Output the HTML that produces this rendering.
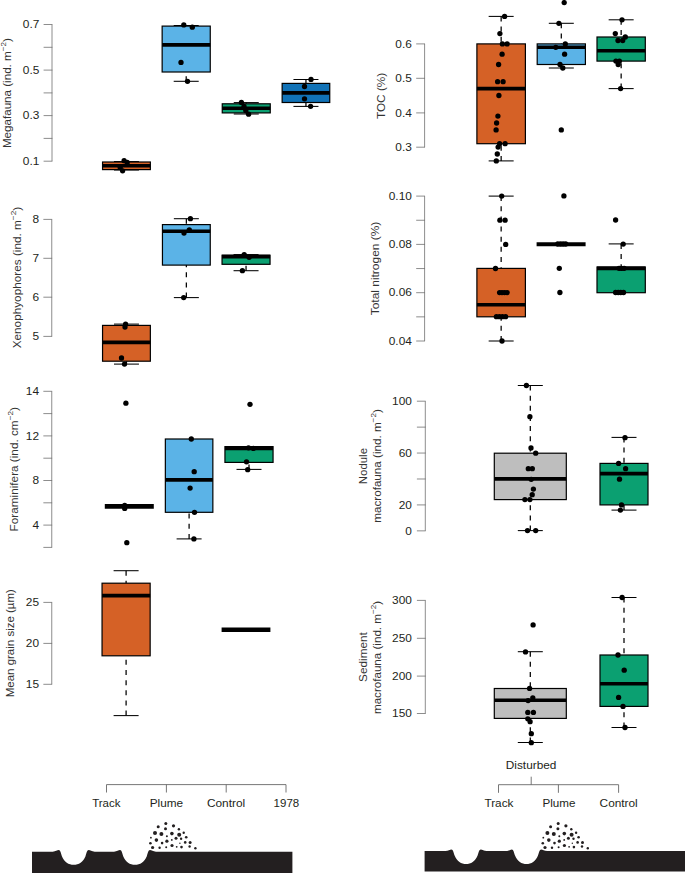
<!DOCTYPE html>
<html><head><meta charset="utf-8"><title>Boxplots</title>
<style>
html,body{margin:0;padding:0;background:#fff;}
svg{display:block;}
text{font-family:"Liberation Sans",sans-serif;font-size:11.4px;}
</style></head><body>
<svg width="685" height="873" viewBox="0 0 685 873">
<rect width="685" height="873" fill="#fff"/>
<path d="M52 24.5V161.2M43.6 24.5H52.4M43.6 47.3H52.4M43.6 70.1H52.4M43.6 92.9H52.4M43.6 115.6H52.4M43.6 138.4H52.4M43.6 161.2H52.4" stroke="#707070" stroke-width="0.8" fill="none"/>
<text transform="translate(39.30 28.2) scale(1.045 1)" text-anchor="end" fill="#231F20">0.7</text>
<text transform="translate(39.30 73.8) scale(1.045 1)" text-anchor="end" fill="#231F20">0.5</text>
<text transform="translate(39.30 119.3) scale(1.045 1)" text-anchor="end" fill="#231F20">0.3</text>
<text transform="translate(39.30 164.9) scale(1.045 1)" text-anchor="end" fill="#231F20">0.1</text>
<text transform="translate(10.7 148.10) rotate(-90) scale(1.0197 1) translate(-0.00 0)" fill="#333"><tspan font-size="11.4">Megafauna (ind. m</tspan><tspan font-size="8" dy="-5">−2</tspan><tspan font-size="11.4" dy="5">)</tspan></text>
<path d="M126.44999999999999 161.6V162" stroke="#000" stroke-width="1.25" stroke-dasharray="5 5.15" fill="none"/>
<path d="M113.94999999999999 161.6H138.95" stroke="#000" stroke-width="1.05" fill="none"/>
<path d="M126.44999999999999 170V169.6" stroke="#000" stroke-width="1.25" stroke-dasharray="5 5.15" fill="none"/>
<path d="M113.94999999999999 170H138.95" stroke="#000" stroke-width="1.05" fill="none"/>
<rect x="102.55" y="162" width="47.8" height="7.6" fill="#D56126" stroke="#000" stroke-width="1.2"/>
<path d="M102.55 165.8H150.35" stroke="#000" stroke-width="3.6" fill="none"/>
<circle cx="124.1" cy="160.7" r="2.65" fill="#000"/>
<circle cx="127.2" cy="162.5" r="2.65" fill="#000"/>
<circle cx="120.2" cy="167.6" r="2.65" fill="#000"/>
<circle cx="122.6" cy="170.8" r="2.65" fill="#000"/>
<path d="M186.2 25.5V26.1" stroke="#000" stroke-width="1.25" stroke-dasharray="5 5.15" fill="none"/>
<path d="M173.7 25.5H198.7" stroke="#000" stroke-width="1.05" fill="none"/>
<path d="M186.2 81.3V72" stroke="#000" stroke-width="1.25" stroke-dasharray="5 5.15" fill="none"/>
<path d="M173.7 81.3H198.7" stroke="#000" stroke-width="1.05" fill="none"/>
<rect x="162.15" y="26.1" width="48.1" height="45.9" fill="#5BB3E7" stroke="#000" stroke-width="1.2"/>
<path d="M162.15 44.9H210.25" stroke="#000" stroke-width="3.6" fill="none"/>
<circle cx="183.8" cy="24.9" r="2.65" fill="#000"/>
<circle cx="192.3" cy="27.2" r="2.65" fill="#000"/>
<circle cx="181" cy="62.4" r="2.65" fill="#000"/>
<circle cx="187.5" cy="81.3" r="2.65" fill="#000"/>
<path d="M246.25 102.6V103.8" stroke="#000" stroke-width="1.25" stroke-dasharray="5 5.15" fill="none"/>
<path d="M233.75 102.6H258.75" stroke="#000" stroke-width="1.05" fill="none"/>
<path d="M246.25 114V112.9" stroke="#000" stroke-width="1.25" stroke-dasharray="5 5.15" fill="none"/>
<path d="M233.75 114H258.75" stroke="#000" stroke-width="1.05" fill="none"/>
<rect x="222.25" y="103.8" width="48.0" height="9.1" fill="#0BA071" stroke="#000" stroke-width="1.2"/>
<path d="M222.25 108.3H270.25" stroke="#000" stroke-width="3.6" fill="none"/>
<circle cx="241.4" cy="102.4" r="2.65" fill="#000"/>
<circle cx="244" cy="106.5" r="2.65" fill="#000"/>
<circle cx="245.8" cy="110.4" r="2.65" fill="#000"/>
<circle cx="248.6" cy="114.2" r="2.65" fill="#000"/>
<path d="M305.95000000000005 79.5V83.4" stroke="#000" stroke-width="1.25" stroke-dasharray="5 5.15" fill="none"/>
<path d="M293.45000000000005 79.5H318.45000000000005" stroke="#000" stroke-width="1.05" fill="none"/>
<path d="M305.95000000000005 106.4V102.5" stroke="#000" stroke-width="1.25" stroke-dasharray="5 5.15" fill="none"/>
<path d="M293.45000000000005 106.4H318.45000000000005" stroke="#000" stroke-width="1.05" fill="none"/>
<rect x="282.15" y="83.4" width="47.6" height="19.1" fill="#1172B6" stroke="#000" stroke-width="1.2"/>
<path d="M282.15 92.9H329.75" stroke="#000" stroke-width="3.6" fill="none"/>
<circle cx="311" cy="79.4" r="2.65" fill="#000"/>
<circle cx="304.5" cy="86.5" r="2.65" fill="#000"/>
<circle cx="304.5" cy="98.8" r="2.65" fill="#000"/>
<circle cx="310.6" cy="106.3" r="2.65" fill="#000"/>
<path d="M51.75 219.4V336.4M43.35 219.4H52.15M43.35 258.3H52.15M43.35 297.2H52.15M43.35 336.4H52.15" stroke="#707070" stroke-width="0.8" fill="none"/>
<text transform="translate(39.05 223.1) scale(1.045 1)" text-anchor="end" fill="#231F20">8</text>
<text transform="translate(39.05 262.0) scale(1.045 1)" text-anchor="end" fill="#231F20">7</text>
<text transform="translate(39.05 300.9) scale(1.045 1)" text-anchor="end" fill="#231F20">6</text>
<text transform="translate(39.05 340.1) scale(1.045 1)" text-anchor="end" fill="#231F20">5</text>
<text transform="translate(20.9 348.30) rotate(-90) scale(1.0319 1) translate(-0.00 0)" fill="#333"><tspan font-size="11.4">Xenophyophores (ind. m</tspan><tspan font-size="8" dy="-5">−2</tspan><tspan font-size="11.4" dy="5">)</tspan></text>
<path d="M126.44999999999999 324.1V325.4" stroke="#000" stroke-width="1.25" stroke-dasharray="5 5.15" fill="none"/>
<path d="M113.94999999999999 324.1H138.95" stroke="#000" stroke-width="1.05" fill="none"/>
<path d="M126.44999999999999 364.1V361.2" stroke="#000" stroke-width="1.25" stroke-dasharray="5 5.15" fill="none"/>
<path d="M113.94999999999999 364.1H138.95" stroke="#000" stroke-width="1.05" fill="none"/>
<rect x="102.55" y="325.4" width="47.8" height="35.8" fill="#D56126" stroke="#000" stroke-width="1.2"/>
<path d="M102.55 342.4H150.35" stroke="#000" stroke-width="3.6" fill="none"/>
<circle cx="125.6" cy="324.1" r="2.65" fill="#000"/>
<circle cx="125" cy="327" r="2.65" fill="#000"/>
<circle cx="121.5" cy="358" r="2.65" fill="#000"/>
<circle cx="124.5" cy="364.1" r="2.65" fill="#000"/>
<path d="M186.35 218.7V224.6" stroke="#000" stroke-width="1.25" stroke-dasharray="5 5.15" fill="none"/>
<path d="M173.85 218.7H198.85" stroke="#000" stroke-width="1.05" fill="none"/>
<path d="M186.35 297.6V265.1" stroke="#000" stroke-width="1.25" stroke-dasharray="5 5.15" fill="none"/>
<path d="M173.85 297.6H198.85" stroke="#000" stroke-width="1.05" fill="none"/>
<rect x="162.45" y="224.6" width="47.8" height="40.5" fill="#5BB3E7" stroke="#000" stroke-width="1.2"/>
<path d="M162.45 231.3H210.25" stroke="#000" stroke-width="3.6" fill="none"/>
<circle cx="190.4" cy="218.7" r="2.65" fill="#000"/>
<circle cx="189.3" cy="229.8" r="2.65" fill="#000"/>
<circle cx="184" cy="233" r="2.65" fill="#000"/>
<circle cx="183.7" cy="297.6" r="2.65" fill="#000"/>
<path d="M246.04999999999998 254.6V255.2" stroke="#000" stroke-width="1.25" stroke-dasharray="5 5.15" fill="none"/>
<path d="M233.54999999999998 254.6H258.54999999999995" stroke="#000" stroke-width="1.05" fill="none"/>
<path d="M246.04999999999998 270.7V264.3" stroke="#000" stroke-width="1.25" stroke-dasharray="5 5.15" fill="none"/>
<path d="M233.54999999999998 270.7H258.54999999999995" stroke="#000" stroke-width="1.05" fill="none"/>
<rect x="222.05" y="255.2" width="48.0" height="9.1" fill="#0BA071" stroke="#000" stroke-width="1.2"/>
<path d="M222.05 256.6H270.05" stroke="#000" stroke-width="3.6" fill="none"/>
<circle cx="244.2" cy="254.6" r="2.65" fill="#000"/>
<circle cx="249.1" cy="257.3" r="2.65" fill="#000"/>
<circle cx="242.4" cy="270.7" r="2.65" fill="#000"/>
<path d="M51.75 391.3V547.4M43.35 391.3H52.15M43.35 413.6H52.15M43.35 435.90000000000003H52.15M43.35 458.20000000000005H52.15M43.35 480.5H52.15M43.35 502.8H52.15M43.35 525.1H52.15M43.35 547.4H52.15" stroke="#707070" stroke-width="0.8" fill="none"/>
<text transform="translate(39.05 395.0) scale(1.045 1)" text-anchor="end" fill="#231F20">14</text>
<text transform="translate(39.05 439.6) scale(1.045 1)" text-anchor="end" fill="#231F20">12</text>
<text transform="translate(39.05 484.2) scale(1.045 1)" text-anchor="end" fill="#231F20">8</text>
<text transform="translate(39.05 528.8) scale(1.045 1)" text-anchor="end" fill="#231F20">4</text>
<text transform="translate(17.5 531.40) rotate(-90) scale(1.0314 1) translate(-0.00 0)" fill="#333"><tspan font-size="11.4">Foraminifera (ind. cm</tspan><tspan font-size="8" dy="-5">−2</tspan><tspan font-size="11.4" dy="5">)</tspan></text>
<path d="M104.8 506.4H153.8" stroke="#000" stroke-width="4.8" fill="none"/>
<circle cx="125.9" cy="403.2" r="2.65" fill="#000"/>
<circle cx="124.7" cy="505.4" r="2.65" fill="#000"/>
<circle cx="124.7" cy="508.4" r="2.65" fill="#000"/>
<circle cx="126.8" cy="542.7" r="2.65" fill="#000"/>
<path d="M189.1 538.9V512.3" stroke="#000" stroke-width="1.25" stroke-dasharray="5 5.15" fill="none"/>
<path d="M176.6 538.9H201.6" stroke="#000" stroke-width="1.05" fill="none"/>
<rect x="165.35" y="439" width="47.5" height="73.3" fill="#5BB3E7" stroke="#000" stroke-width="1.2"/>
<path d="M165.35 479.9H212.85" stroke="#000" stroke-width="3.6" fill="none"/>
<circle cx="191.3" cy="439" r="2.65" fill="#000"/>
<circle cx="194.2" cy="471.7" r="2.65" fill="#000"/>
<circle cx="190.1" cy="488.1" r="2.65" fill="#000"/>
<circle cx="194.5" cy="512.3" r="2.65" fill="#000"/>
<circle cx="193.9" cy="538.9" r="2.65" fill="#000"/>
<path d="M249.0 469.4V462.4" stroke="#000" stroke-width="1.25" stroke-dasharray="5 5.15" fill="none"/>
<path d="M236.5 469.4H261.5" stroke="#000" stroke-width="1.05" fill="none"/>
<rect x="224.95" y="446.6" width="48.1" height="15.8" fill="#0BA071" stroke="#000" stroke-width="1.2"/>
<path d="M224.95 448.4H273.05" stroke="#000" stroke-width="3.6" fill="none"/>
<circle cx="250" cy="404.3" r="2.65" fill="#000"/>
<circle cx="248.5" cy="447.8" r="2.65" fill="#000"/>
<circle cx="253.5" cy="448.4" r="2.65" fill="#000"/>
<circle cx="246.5" cy="461.8" r="2.65" fill="#000"/>
<circle cx="247.7" cy="469.7" r="2.65" fill="#000"/>
<path d="M51.75 602.4V684.3M43.35 602.4H52.15M43.35 643.4H52.15M43.35 684.3H52.15" stroke="#707070" stroke-width="0.8" fill="none"/>
<text transform="translate(39.05 606.1) scale(1.045 1)" text-anchor="end" fill="#231F20">25</text>
<text transform="translate(39.05 647.1) scale(1.045 1)" text-anchor="end" fill="#231F20">20</text>
<text transform="translate(39.05 688.0) scale(1.045 1)" text-anchor="end" fill="#231F20">15</text>
<text transform="translate(14.1 697.30) rotate(-90) scale(1.0103 1) translate(-0.00 0)" fill="#333"><tspan font-size="11.4">Mean grain size (µm)</tspan></text>
<path d="M126.1 570.7V583.2" stroke="#000" stroke-width="1.25" stroke-dasharray="5 5.15" fill="none"/>
<path d="M113.6 570.7H138.6" stroke="#000" stroke-width="1.05" fill="none"/>
<path d="M126.1 715.6V655.8" stroke="#000" stroke-width="1.25" stroke-dasharray="5 5.15" fill="none"/>
<path d="M113.6 715.6H138.6" stroke="#000" stroke-width="1.05" fill="none"/>
<rect x="102.05" y="583.2" width="48.1" height="72.6" fill="#D56126" stroke="#000" stroke-width="1.2"/>
<path d="M102.05 595.6H150.15" stroke="#000" stroke-width="3.6" fill="none"/>
<path d="M221.6 629.7H270.4" stroke="#000" stroke-width="4.6" fill="none"/>
<path d="M106.5 792.5V784.6H286V792.5M166.4 784.6V792.5M226.2 784.6V792.5" stroke="#5e5e5e" stroke-width="0.85" fill="none"/>
<text transform="translate(92.20 807) scale(1.0071 1) translate(-0.00 0)" fill="#231F20"><tspan font-size="11.4">Track</tspan></text>
<text transform="translate(149.70 807) scale(1.0365 1) translate(-0.00 0)" fill="#231F20"><tspan font-size="11.4">Plume</tspan></text>
<text transform="translate(206.90 807) scale(1.0448 1) translate(-0.00 0)" fill="#231F20"><tspan font-size="11.4">Control</tspan></text>
<text transform="translate(273.60 807) scale(1.0093 1) translate(-0.00 0)" fill="#231F20"><tspan font-size="11.4">1978</tspan></text>
<path d="M424.6 43.9V147.2M416.20000000000005 43.9H425.0M416.20000000000005 78.3H425.0M416.20000000000005 112.9H425.0M416.20000000000005 147.2H425.0" stroke="#707070" stroke-width="0.8" fill="none"/>
<text transform="translate(411.90 47.6) scale(1.045 1)" text-anchor="end" fill="#231F20">0.6</text>
<text transform="translate(411.90 82.0) scale(1.045 1)" text-anchor="end" fill="#231F20">0.5</text>
<text transform="translate(411.90 116.6) scale(1.045 1)" text-anchor="end" fill="#231F20">0.4</text>
<text transform="translate(411.90 150.9) scale(1.045 1)" text-anchor="end" fill="#231F20">0.3</text>
<text transform="translate(384.5 119.00) rotate(-90) scale(1.0323 1) translate(-0.00 0)" fill="#333"><tspan font-size="11.4">TOC (%)</tspan></text>
<path d="M501.15 16.4V43.9" stroke="#000" stroke-width="1.25" stroke-dasharray="5 5.15" fill="none"/>
<path d="M488.65 16.4H513.65" stroke="#000" stroke-width="1.05" fill="none"/>
<path d="M501.15 160.9V143.7" stroke="#000" stroke-width="1.25" stroke-dasharray="5 5.15" fill="none"/>
<path d="M488.65 160.9H513.65" stroke="#000" stroke-width="1.05" fill="none"/>
<rect x="476.9" y="43.9" width="48.5" height="99.8" fill="#D56126" stroke="#000" stroke-width="1.2"/>
<path d="M476.9 88.6H525.4" stroke="#000" stroke-width="3.6" fill="none"/>
<circle cx="504.6" cy="16.4" r="2.65" fill="#000"/>
<circle cx="499.9" cy="33.6" r="2.65" fill="#000"/>
<circle cx="502.4" cy="43.9" r="2.65" fill="#000"/>
<circle cx="507.1" cy="43.9" r="2.65" fill="#000"/>
<circle cx="502.1" cy="54.2" r="2.65" fill="#000"/>
<circle cx="498.6" cy="64.5" r="2.65" fill="#000"/>
<circle cx="497.6" cy="81.7" r="2.65" fill="#000"/>
<circle cx="503.1" cy="81.7" r="2.65" fill="#000"/>
<circle cx="498.9" cy="95.5" r="2.65" fill="#000"/>
<circle cx="497.9" cy="116.1" r="2.65" fill="#000"/>
<circle cx="496.6" cy="123.0" r="2.65" fill="#000"/>
<circle cx="496.1" cy="129.9" r="2.65" fill="#000"/>
<circle cx="499.6" cy="143.7" r="2.65" fill="#000"/>
<circle cx="505.1" cy="143.7" r="2.65" fill="#000"/>
<circle cx="498.1" cy="147.1" r="2.65" fill="#000"/>
<circle cx="497.3" cy="154.0" r="2.65" fill="#000"/>
<circle cx="496.3" cy="160.9" r="2.65" fill="#000"/>
<path d="M561.3 23.3V43.9" stroke="#000" stroke-width="1.25" stroke-dasharray="5 5.15" fill="none"/>
<path d="M548.8 23.3H573.8" stroke="#000" stroke-width="1.05" fill="none"/>
<path d="M561.3 68.0V64.5" stroke="#000" stroke-width="1.25" stroke-dasharray="5 5.15" fill="none"/>
<path d="M548.8 68.0H573.8" stroke="#000" stroke-width="1.05" fill="none"/>
<rect x="537.2" y="43.9" width="48.2" height="20.6" fill="#5BB3E7" stroke="#000" stroke-width="1.2"/>
<path d="M537.2 47.3H585.4" stroke="#000" stroke-width="3.6" fill="none"/>
<circle cx="564.2" cy="2.6" r="2.65" fill="#000"/>
<circle cx="558.9" cy="23.3" r="2.65" fill="#000"/>
<circle cx="565.3" cy="43.9" r="2.65" fill="#000"/>
<circle cx="555.8" cy="47.3" r="2.65" fill="#000"/>
<circle cx="564.6" cy="54.2" r="2.65" fill="#000"/>
<circle cx="560" cy="64.5" r="2.65" fill="#000"/>
<circle cx="562.8" cy="68.0" r="2.65" fill="#000"/>
<circle cx="561.3" cy="129.9" r="2.65" fill="#000"/>
<path d="M621.15 19.8V37.0" stroke="#000" stroke-width="1.25" stroke-dasharray="5 5.15" fill="none"/>
<path d="M608.65 19.8H633.65" stroke="#000" stroke-width="1.05" fill="none"/>
<path d="M621.15 88.6V61.1" stroke="#000" stroke-width="1.25" stroke-dasharray="5 5.15" fill="none"/>
<path d="M608.65 88.6H633.65" stroke="#000" stroke-width="1.05" fill="none"/>
<rect x="597.0" y="37.0" width="48.3" height="24.1" fill="#0BA071" stroke="#000" stroke-width="1.2"/>
<path d="M597.0 50.8H645.3" stroke="#000" stroke-width="3.6" fill="none"/>
<circle cx="622" cy="19.8" r="2.65" fill="#000"/>
<circle cx="615.3" cy="33.6" r="2.65" fill="#000"/>
<circle cx="625.3" cy="37.0" r="2.65" fill="#000"/>
<circle cx="622.7" cy="40.5" r="2.65" fill="#000"/>
<circle cx="618" cy="40.5" r="2.65" fill="#000"/>
<circle cx="615.9" cy="61.1" r="2.65" fill="#000"/>
<circle cx="619.4" cy="61.1" r="2.65" fill="#000"/>
<circle cx="618.2" cy="64.5" r="2.65" fill="#000"/>
<circle cx="620.6" cy="88.6" r="2.65" fill="#000"/>
<path d="M424.6 196.1V341.0M416.20000000000005 196.1H425.0M416.20000000000005 220.25H425.0M416.20000000000005 244.39999999999998H425.0M416.20000000000005 268.54999999999995H425.0M416.20000000000005 292.7H425.0M416.20000000000005 316.85H425.0M416.20000000000005 341.0H425.0" stroke="#707070" stroke-width="0.8" fill="none"/>
<text transform="translate(411.90 199.8) scale(1.045 1)" text-anchor="end" fill="#231F20">0.10</text>
<text transform="translate(411.90 248.1) scale(1.045 1)" text-anchor="end" fill="#231F20">0.08</text>
<text transform="translate(411.90 296.4) scale(1.045 1)" text-anchor="end" fill="#231F20">0.06</text>
<text transform="translate(411.90 344.7) scale(1.045 1)" text-anchor="end" fill="#231F20">0.04</text>
<text transform="translate(378.7 315.30) rotate(-90) scale(1.0488 1) translate(-0.00 0)" fill="#333"><tspan font-size="11.4">Total nitrogen (%)</tspan></text>
<path d="M501.15 196.1V268.4" stroke="#000" stroke-width="1.25" stroke-dasharray="5 5.15" fill="none"/>
<path d="M488.65 196.1H513.65" stroke="#000" stroke-width="1.05" fill="none"/>
<path d="M501.15 341V316.8" stroke="#000" stroke-width="1.25" stroke-dasharray="5 5.15" fill="none"/>
<path d="M488.65 341H513.65" stroke="#000" stroke-width="1.05" fill="none"/>
<rect x="476.9" y="268.4" width="48.5" height="48.4" fill="#D56126" stroke="#000" stroke-width="1.2"/>
<path d="M476.9 304.8H525.4" stroke="#000" stroke-width="3.6" fill="none"/>
<circle cx="501.7" cy="196.1" r="2.65" fill="#000"/>
<circle cx="499.9" cy="220.2" r="2.65" fill="#000"/>
<circle cx="505.1" cy="220.2" r="2.65" fill="#000"/>
<circle cx="505.7" cy="244.4" r="2.65" fill="#000"/>
<circle cx="495.5" cy="268.5" r="2.65" fill="#000"/>
<circle cx="499.6" cy="292.6" r="2.65" fill="#000"/>
<circle cx="502" cy="292.6" r="2.65" fill="#000"/>
<circle cx="504.5" cy="292.6" r="2.65" fill="#000"/>
<circle cx="507.1" cy="292.6" r="2.65" fill="#000"/>
<circle cx="496.4" cy="316.7" r="2.65" fill="#000"/>
<circle cx="499.4" cy="316.7" r="2.65" fill="#000"/>
<circle cx="502.4" cy="316.7" r="2.65" fill="#000"/>
<circle cx="505.6" cy="316.7" r="2.65" fill="#000"/>
<circle cx="502" cy="341" r="2.65" fill="#000"/>
<path d="M536.6 244.3H585.6" stroke="#000" stroke-width="3.9" fill="none"/>
<circle cx="563.9" cy="195.9" r="2.65" fill="#000"/>
<circle cx="557.8" cy="244" r="2.65" fill="#000"/>
<circle cx="560.5" cy="244" r="2.65" fill="#000"/>
<circle cx="563.1" cy="244" r="2.65" fill="#000"/>
<circle cx="565.7" cy="244" r="2.65" fill="#000"/>
<circle cx="559.3" cy="268.3" r="2.65" fill="#000"/>
<circle cx="559.9" cy="292.5" r="2.65" fill="#000"/>
<path d="M621.15 243.9V267" stroke="#000" stroke-width="1.25" stroke-dasharray="5 5.15" fill="none"/>
<path d="M608.65 243.9H633.65" stroke="#000" stroke-width="1.05" fill="none"/>
<rect x="597.0" y="267" width="48.3" height="25.7" fill="#0BA071" stroke="#000" stroke-width="1.2"/>
<path d="M597.0 268.4H645.3" stroke="#000" stroke-width="3.6" fill="none"/>
<circle cx="615.6" cy="220" r="2.65" fill="#000"/>
<circle cx="623.2" cy="244.1" r="2.65" fill="#000"/>
<circle cx="619.1" cy="268.3" r="2.65" fill="#000"/>
<circle cx="621.6" cy="268.3" r="2.65" fill="#000"/>
<circle cx="624.1" cy="268.3" r="2.65" fill="#000"/>
<circle cx="615.6" cy="292.5" r="2.65" fill="#000"/>
<circle cx="618.2" cy="292.5" r="2.65" fill="#000"/>
<circle cx="620.8" cy="292.5" r="2.65" fill="#000"/>
<circle cx="623.5" cy="292.5" r="2.65" fill="#000"/>
<path d="M425.3 401.2V530.85M416.90000000000003 401.2H425.7M416.90000000000003 427.13H425.7M416.90000000000003 453.06H425.7M416.90000000000003 478.99H425.7M416.90000000000003 504.91999999999996H425.7M416.90000000000003 530.85H425.7" stroke="#707070" stroke-width="0.8" fill="none"/>
<text transform="translate(411.90 404.9) scale(1.045 1)" text-anchor="end" fill="#231F20">100</text>
<text transform="translate(411.90 456.8) scale(1.045 1)" text-anchor="end" fill="#231F20">60</text>
<text transform="translate(411.90 508.6) scale(1.045 1)" text-anchor="end" fill="#231F20">20</text>
<text transform="translate(411.90 534.6) scale(1.045 1)" text-anchor="end" fill="#231F20">0</text>
<text transform="translate(366.6 484.20) rotate(-90) scale(1.0020 1) translate(-0.00 0)" fill="#333"><tspan font-size="11.4">Nodule</tspan></text>
<text transform="translate(380.7 522.70) rotate(-90) scale(1.0223 1) translate(-0.00 0)" fill="#333"><tspan font-size="11.4">macrofauna (ind. m</tspan><tspan font-size="8" dy="-5">−2</tspan><tspan font-size="11.4" dy="5">)</tspan></text>
<path d="M530.3 385.5V453.2" stroke="#000" stroke-width="1.25" stroke-dasharray="5 5.15" fill="none"/>
<path d="M517.8 385.5H542.8" stroke="#000" stroke-width="1.05" fill="none"/>
<path d="M530.3 530.6V499.6" stroke="#000" stroke-width="1.25" stroke-dasharray="5 5.15" fill="none"/>
<path d="M517.8 530.6H542.8" stroke="#000" stroke-width="1.05" fill="none"/>
<rect x="494.3" y="453.2" width="72.0" height="46.4" fill="#BEBEBE" stroke="#000" stroke-width="1.2"/>
<path d="M494.3 478.9H566.3" stroke="#000" stroke-width="3.6" fill="none"/>
<circle cx="526.4" cy="385.5" r="2.65" fill="#000"/>
<circle cx="529.9" cy="416.7" r="2.65" fill="#000"/>
<circle cx="531" cy="448" r="2.65" fill="#000"/>
<circle cx="535.7" cy="453.2" r="2.65" fill="#000"/>
<circle cx="528.3" cy="468.7" r="2.65" fill="#000"/>
<circle cx="532.3" cy="468.7" r="2.65" fill="#000"/>
<circle cx="533.4" cy="489.1" r="2.65" fill="#000"/>
<circle cx="532.2" cy="494.7" r="2.65" fill="#000"/>
<circle cx="524.9" cy="499.6" r="2.65" fill="#000"/>
<circle cx="529.9" cy="499.6" r="2.65" fill="#000"/>
<circle cx="527.5" cy="530.6" r="2.65" fill="#000"/>
<circle cx="535.7" cy="530.6" r="2.65" fill="#000"/>
<circle cx="531.2" cy="479.3" r="2.65" fill="#000"/>
<path d="M624.0 437.4V463.4" stroke="#000" stroke-width="1.25" stroke-dasharray="5 5.15" fill="none"/>
<path d="M611.5 437.4H636.5" stroke="#000" stroke-width="1.05" fill="none"/>
<path d="M624.0 510.1V504.9" stroke="#000" stroke-width="1.25" stroke-dasharray="5 5.15" fill="none"/>
<path d="M611.5 510.1H636.5" stroke="#000" stroke-width="1.05" fill="none"/>
<rect x="600.0" y="463.4" width="48.0" height="41.5" fill="#0BA071" stroke="#000" stroke-width="1.2"/>
<path d="M600.0 473.6H648.0" stroke="#000" stroke-width="3.6" fill="none"/>
<circle cx="625" cy="437.7" r="2.65" fill="#000"/>
<circle cx="618.6" cy="463.4" r="2.65" fill="#000"/>
<circle cx="625.6" cy="468.7" r="2.65" fill="#000"/>
<circle cx="619.5" cy="479.2" r="2.65" fill="#000"/>
<circle cx="621.5" cy="504.9" r="2.65" fill="#000"/>
<circle cx="620.4" cy="510.1" r="2.65" fill="#000"/>
<path d="M425.3 600.4V713.5M416.90000000000003 600.4H425.7M416.90000000000003 638.3H425.7M416.90000000000003 676.1H425.7M416.90000000000003 713.5H425.7" stroke="#707070" stroke-width="0.8" fill="none"/>
<text transform="translate(411.90 604.1) scale(1.045 1)" text-anchor="end" fill="#231F20">300</text>
<text transform="translate(411.90 642.0) scale(1.045 1)" text-anchor="end" fill="#231F20">250</text>
<text transform="translate(411.90 679.8) scale(1.045 1)" text-anchor="end" fill="#231F20">200</text>
<text transform="translate(411.90 717.2) scale(1.045 1)" text-anchor="end" fill="#231F20">150</text>
<text transform="translate(366.6 681.90) rotate(-90) scale(1.0339 1) translate(-0.00 0)" fill="#333"><tspan font-size="11.4">Sediment</tspan></text>
<text transform="translate(380.7 714.00) rotate(-90) scale(1.0178 1) translate(-0.00 0)" fill="#333"><tspan font-size="11.4">macrofauna (ind. m</tspan><tspan font-size="8" dy="-5">−2</tspan><tspan font-size="11.4" dy="5">)</tspan></text>
<path d="M530.3 651.7V688.5" stroke="#000" stroke-width="1.25" stroke-dasharray="5 5.15" fill="none"/>
<path d="M517.8 651.7H542.8" stroke="#000" stroke-width="1.05" fill="none"/>
<path d="M530.3 742.5V718.4" stroke="#000" stroke-width="1.25" stroke-dasharray="5 5.15" fill="none"/>
<path d="M517.8 742.5H542.8" stroke="#000" stroke-width="1.05" fill="none"/>
<rect x="494.3" y="688.5" width="72.0" height="29.9" fill="#BEBEBE" stroke="#000" stroke-width="1.2"/>
<path d="M494.3 700.3H566.3" stroke="#000" stroke-width="3.6" fill="none"/>
<circle cx="533.1" cy="624.9" r="2.65" fill="#000"/>
<circle cx="525.5" cy="651.9" r="2.65" fill="#000"/>
<circle cx="529.6" cy="688.4" r="2.65" fill="#000"/>
<circle cx="532.8" cy="697.8" r="2.65" fill="#000"/>
<circle cx="528.1" cy="700.6" r="2.65" fill="#000"/>
<circle cx="527.8" cy="712.4" r="2.65" fill="#000"/>
<circle cx="533.4" cy="712.4" r="2.65" fill="#000"/>
<circle cx="527.8" cy="718.8" r="2.65" fill="#000"/>
<circle cx="530.1" cy="721.7" r="2.65" fill="#000"/>
<circle cx="531.3" cy="733.7" r="2.65" fill="#000"/>
<circle cx="531.3" cy="742.7" r="2.65" fill="#000"/>
<path d="M624.0 597.5V655.0" stroke="#000" stroke-width="1.25" stroke-dasharray="5 5.15" fill="none"/>
<path d="M611.5 597.5H636.5" stroke="#000" stroke-width="1.05" fill="none"/>
<path d="M624.0 727.5V706.4" stroke="#000" stroke-width="1.25" stroke-dasharray="5 5.15" fill="none"/>
<path d="M611.5 727.5H636.5" stroke="#000" stroke-width="1.05" fill="none"/>
<rect x="600.0" y="655.0" width="48.0" height="51.4" fill="#0BA071" stroke="#000" stroke-width="1.2"/>
<path d="M600.0 683.7H648.0" stroke="#000" stroke-width="3.6" fill="none"/>
<circle cx="622.1" cy="597.5" r="2.65" fill="#000"/>
<circle cx="618" cy="655.0" r="2.65" fill="#000"/>
<circle cx="624.2" cy="670.2" r="2.65" fill="#000"/>
<circle cx="618.6" cy="697.4" r="2.65" fill="#000"/>
<circle cx="623" cy="706.4" r="2.65" fill="#000"/>
<circle cx="625" cy="727.5" r="2.65" fill="#000"/>
<path d="M498.5 792.8V784.7H618.6V792.8M558.4 784.7V792.8M531.2 776.7V784.7" stroke="#5e5e5e" stroke-width="0.85" fill="none"/>
<text transform="translate(505.80 769.4) scale(1.0371 1) translate(-0.00 0)" fill="#231F20"><tspan font-size="11.4">Disturbed</tspan></text>
<text transform="translate(484.40 807) scale(1.0356 1) translate(-0.00 0)" fill="#231F20"><tspan font-size="11.4">Track</tspan></text>
<text transform="translate(542.50 807) scale(1.0211 1) translate(-0.00 0)" fill="#231F20"><tspan font-size="11.4">Plume</tspan></text>
<text transform="translate(599.60 807) scale(1.0394 1) translate(-0.00 0)" fill="#231F20"><tspan font-size="11.4">Control</tspan></text>
<path d="M32 874V851.7H52.7C55.7 851.7,57.2 850.1,58.7 850.1C60.5 850.1,60.900000000000006 853.7,61.900000000000006 856.2C64.2 862.2,68.7 864.8000000000001,73.7 864.8000000000001C78.7 864.8000000000001,83.2 862.2,85.5 856.2C86.5 853.7,86.9 850.1,88.7 850.1C90.2 850.1,91.7 851.7,94.7 851.7H114C117 851.7,118.5 850.1,120 850.1C121.8 850.1,122.2 853.7,123.2 856.2C125.5 862.2,130 864.8000000000001,135.0 864.8000000000001C140 864.8000000000001,144.5 862.2,146.8 856.2C147.8 853.7,148.2 850.1,150 850.1C151.5 850.1,153 851.7,156 851.7H292.4V874Z" fill="#231F20"/>
<circle cx="165.8" cy="823.4" r="1.5" fill="#231F20"/>
<circle cx="158.2" cy="826.8" r="1.5" fill="#231F20"/>
<circle cx="173.5" cy="825.8" r="1.6" fill="#231F20"/>
<circle cx="165.5" cy="828.7" r="1.5" fill="#231F20"/>
<circle cx="178.9" cy="829.3" r="1.2" fill="#231F20"/>
<circle cx="155.0" cy="832.9" r="2" fill="#231F20"/>
<circle cx="161.4" cy="834.1" r="2" fill="#231F20"/>
<circle cx="171.9" cy="833.6" r="1.8" fill="#231F20"/>
<circle cx="179.2" cy="834.8" r="2" fill="#231F20"/>
<circle cx="183.7" cy="832.8" r="1.2" fill="#231F20"/>
<circle cx="166.9" cy="836.3" r="1" fill="#231F20"/>
<circle cx="150.9" cy="837.7" r="0.9" fill="#231F20"/>
<circle cx="186.2" cy="837.3" r="1.3" fill="#231F20"/>
<circle cx="176.0" cy="838.2" r="1.5" fill="#231F20"/>
<circle cx="181.1" cy="838.8" r="1.2" fill="#231F20"/>
<circle cx="156.4" cy="840.1" r="1.8" fill="#231F20"/>
<circle cx="171.8" cy="839.9" r="0.9" fill="#231F20"/>
<circle cx="166.9" cy="841.2" r="1.6" fill="#231F20"/>
<circle cx="150.4" cy="843.3" r="1.3" fill="#231F20"/>
<circle cx="162.1" cy="843.1" r="1.3" fill="#231F20"/>
<circle cx="185.2" cy="842.4" r="1.3" fill="#231F20"/>
<circle cx="190.1" cy="842.4" r="1.5" fill="#231F20"/>
<circle cx="179.9" cy="843.3" r="0.7" fill="#231F20"/>
<circle cx="172.0" cy="845.5" r="1.6" fill="#231F20"/>
<circle cx="152.6" cy="847.5" r="1.6" fill="#231F20"/>
<circle cx="159.6" cy="847.7" r="1.2" fill="#231F20"/>
<circle cx="166.2" cy="847.2" r="1" fill="#231F20"/>
<circle cx="176.7" cy="846.8" r="0.9" fill="#231F20"/>
<circle cx="181.5" cy="847.1" r="1.3" fill="#231F20"/>
<circle cx="189.6" cy="846.5" r="1.2" fill="#231F20"/>
<circle cx="195.4" cy="848.2" r="1.2" fill="#231F20"/>
<path d="M424.6 871.6V851.0H445.4C448.4 851.0,449.9 849.4,451.4 849.4C453.2 849.4,453.59999999999997 853.0,454.59999999999997 855.5C456.9 861.5,461.4 864.1,466.1 864.1C470.8 864.1,475.3 861.5,477.6 855.5C478.6 853.0,479.0 849.4,480.8 849.4C482.3 849.4,483.8 851.0,486.8 851.0H505.79999999999995C508.79999999999995 851.0,510.29999999999995 849.4,511.79999999999995 849.4C513.5999999999999 849.4,514.0 853.0,515.0 855.5C517.3 861.5,521.8 864.1,526.5 864.1C531.2 864.1,535.7 861.5,538.0 855.5C539.0 853.0,539.4000000000001 849.4,541.2 849.4C542.7 849.4,544.2 851.0,547.2 851.0H686V871.6Z" fill="#231F20"/>
<circle cx="558.2" cy="823.4" r="1.5" fill="#231F20"/>
<circle cx="550.6" cy="826.8" r="1.5" fill="#231F20"/>
<circle cx="565.9" cy="825.8" r="1.6" fill="#231F20"/>
<circle cx="557.9" cy="828.7" r="1.5" fill="#231F20"/>
<circle cx="571.3" cy="829.3" r="1.2" fill="#231F20"/>
<circle cx="547.4" cy="832.9" r="2" fill="#231F20"/>
<circle cx="553.8" cy="834.1" r="2" fill="#231F20"/>
<circle cx="564.3" cy="833.6" r="1.8" fill="#231F20"/>
<circle cx="571.6" cy="834.8" r="2" fill="#231F20"/>
<circle cx="576.1" cy="832.8" r="1.2" fill="#231F20"/>
<circle cx="559.3" cy="836.3" r="1" fill="#231F20"/>
<circle cx="543.3" cy="837.7" r="0.9" fill="#231F20"/>
<circle cx="578.6" cy="837.3" r="1.3" fill="#231F20"/>
<circle cx="568.4" cy="838.2" r="1.5" fill="#231F20"/>
<circle cx="573.5" cy="838.8" r="1.2" fill="#231F20"/>
<circle cx="548.8" cy="840.1" r="1.8" fill="#231F20"/>
<circle cx="564.2" cy="839.9" r="0.9" fill="#231F20"/>
<circle cx="559.3" cy="841.2" r="1.6" fill="#231F20"/>
<circle cx="542.8" cy="843.3" r="1.3" fill="#231F20"/>
<circle cx="554.5" cy="843.1" r="1.3" fill="#231F20"/>
<circle cx="577.6" cy="842.4" r="1.3" fill="#231F20"/>
<circle cx="582.5" cy="842.4" r="1.5" fill="#231F20"/>
<circle cx="572.3" cy="843.3" r="0.7" fill="#231F20"/>
<circle cx="564.4" cy="845.5" r="1.6" fill="#231F20"/>
<circle cx="545.0" cy="847.5" r="1.6" fill="#231F20"/>
<circle cx="552.0" cy="847.7" r="1.2" fill="#231F20"/>
<circle cx="558.6" cy="847.2" r="1" fill="#231F20"/>
<circle cx="569.1" cy="846.8" r="0.9" fill="#231F20"/>
<circle cx="573.9" cy="847.1" r="1.3" fill="#231F20"/>
<circle cx="582.0" cy="846.5" r="1.2" fill="#231F20"/>
<circle cx="587.8" cy="848.2" r="1.2" fill="#231F20"/>
</svg>
</body></html>
